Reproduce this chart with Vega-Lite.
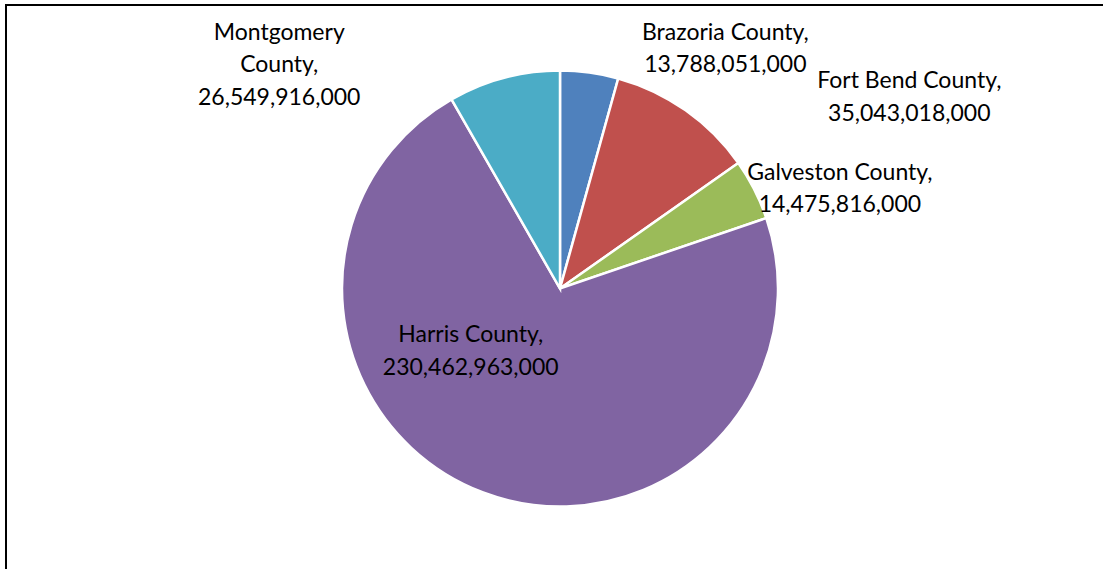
{
  "$schema": "https://vega.github.io/schema/vega-lite/v6.json",
  "width": 1103,
  "height": 569,
  "autosize": {"type": "fit", "contains": "padding"},
  "padding": {"left": 6, "top": 5, "right": -11, "bottom": -3},
  "background": "white",
  "view": {"stroke": "black", "strokeWidth": 2},
  "data": {
    "values": [
      {"county": "Brazoria County", "value": 13788051000},
      {"county": "Fort Bend County", "value": 35043018000},
      {"county": "Galveston County", "value": 14475816000},
      {"county": "Harris County", "value": 230462963000},
      {"county": "Montgomery County", "value": 26549916000}
    ]
  },
  "transform": [
    {"calculate": "datum.county + ',\\n' + format(datum.value, ',')", "as": "label"},
    {"calculate": "replace(datum.county, ' ', '\\n') + ',\\n' + format(datum.value, ',')", "as": "label3"}
  ],
  "encoding": {
    "theta": {"field": "value", "type": "quantitative", "stack": true},
    "order": {"field": "county", "type": "nominal", "sort": "ascending"}
  },
  "layer": [
    {
      "mark": {"type": "arc", "radius": 218, "stroke": "white", "strokeWidth": 2.5},
      "encoding": {
        "color": {
          "field": "county",
          "type": "nominal",
          "scale": {
            "domain": ["Brazoria County", "Fort Bend County", "Galveston County", "Harris County", "Montgomery County"],
            "range": ["#4F81BD", "#C0504D", "#9BBB59", "#8064A2", "#4BACC6"]
          },
          "legend": null
        }
      }
    },
    {
      "mark": {"type": "text", "radius": 240, "dx": 133, "dy": -11, "align": "center", "baseline": "alphabetic", "lineBreak": "\n", "lineHeight": 32.5, "font": "Lato", "fontSize": 23, "color": "black"},
      "encoding": {"text": {"field": "label", "type": "nominal", "condition": {"test": "datum.county !== 'Brazoria County'", "value": ""}}}
    },
    {
      "mark": {"type": "text", "radius": 240, "dx": 211, "dy": -4, "align": "center", "baseline": "alphabetic", "lineBreak": "\n", "lineHeight": 32.5, "font": "Lato", "fontSize": 23, "color": "black"},
      "encoding": {"text": {"field": "label", "type": "nominal", "condition": {"test": "datum.county !== 'Fort Bend County'", "value": ""}}}
    },
    {
      "mark": {"type": "text", "radius": 240, "dx": 66, "dy": 0, "align": "center", "baseline": "alphabetic", "lineBreak": "\n", "lineHeight": 32.5, "font": "Lato", "fontSize": 23, "color": "black"},
      "encoding": {"text": {"field": "label", "type": "nominal", "condition": {"test": "datum.county !== 'Galveston County'", "value": ""}}}
    },
    {
      "mark": {"type": "text", "radius": 100, "dx": -54, "dy": -40, "align": "center", "baseline": "alphabetic", "lineBreak": "\n", "lineHeight": 32.5, "font": "Lato", "fontSize": 23, "color": "black"},
      "encoding": {"text": {"field": "label", "type": "nominal", "condition": {"test": "datum.county !== 'Harris County'", "value": ""}}}
    },
    {
      "mark": {"type": "text", "radius": 240, "dx": -219, "dy": -17, "align": "center", "baseline": "alphabetic", "lineBreak": "\n", "lineHeight": 32.5, "font": "Lato", "fontSize": 23, "color": "black"},
      "encoding": {"text": {"field": "label3", "type": "nominal", "condition": {"test": "datum.county !== 'Montgomery County'", "value": ""}}}
    }
  ]
}
